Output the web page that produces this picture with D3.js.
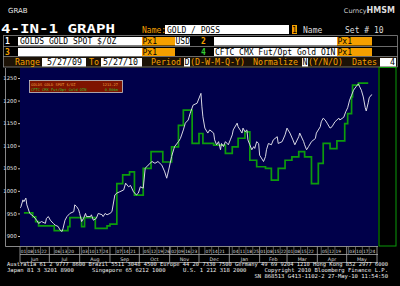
<!DOCTYPE html>
<html>
<head>
<meta charset="utf-8">
<script src="https://cdn.jsdelivr.net/npm/d3@7"></script>
<style>
  body { margin: 0; background: #000; }
  svg { display: block; }
</style>
</head>
<body>
<div id="chart"></div>
<script>
// gold spot
const goldDates = [
  '2009-05-29','2009-06-02','2009-06-04','2009-06-05','2009-06-07','2009-06-08','2009-06-11','2009-06-15','2009-06-18','2009-06-20',
  '2009-06-23','2009-06-27','2009-06-28','2009-06-30','2009-07-02','2009-07-05','2009-07-07','2009-07-10','2009-07-12','2009-07-14',
  '2009-07-15','2009-07-17','2009-07-19','2009-07-22','2009-07-26','2009-07-27','2009-07-29','2009-07-31','2009-08-01','2009-08-03',
  '2009-08-05','2009-08-07','2009-08-08','2009-08-12','2009-08-13','2009-08-15','2009-08-18','2009-08-20','2009-08-24','2009-08-25',
  '2009-08-27','2009-08-29','2009-09-01','2009-09-03','2009-09-06','2009-09-08','2009-09-11','2009-09-15','2009-09-17','2009-09-20',
  '2009-09-22','2009-09-25','2009-09-28','2009-09-30','2009-10-02','2009-10-05','2009-10-07','2009-10-10','2009-10-14','2009-10-17',
  '2009-10-20','2009-10-24','2009-10-27','2009-10-29','2009-10-31','2009-11-03','2009-11-06','2009-11-10','2009-11-12','2009-11-15',
  '2009-11-17','2009-11-20','2009-11-22','2009-11-25','2009-11-29','2009-12-03','2009-12-04','2009-12-05','2009-12-07','2009-12-10',
  '2009-12-12','2009-12-16','2009-12-17','2009-12-19','2009-12-21','2009-12-23','2009-12-24','2009-12-26','2009-12-28','2009-12-31',
  '2010-01-02','2010-01-04','2010-01-05','2010-01-09','2010-01-10','2010-01-12','2010-01-14','2010-01-15','2010-01-17','2010-01-19',
  '2010-01-20','2010-01-22','2010-01-24','2010-01-26','2010-01-27','2010-01-29','2010-01-31','2010-02-01','2010-02-05','2010-02-07',
  '2010-02-08','2010-02-10','2010-02-13','2010-02-15','2010-02-19','2010-02-20','2010-02-24','2010-02-27','2010-03-01','2010-03-02',
  '2010-03-04','2010-03-07','2010-03-09','2010-03-13','2010-03-14','2010-03-18','2010-03-19','2010-03-21','2010-03-23','2010-03-26',
  '2010-03-30','2010-03-31','2010-04-04','2010-04-05','2010-04-07','2010-04-09','2010-04-11','2010-04-14','2010-04-16','2010-04-19',
  '2010-04-23','2010-04-24','2010-04-28','2010-04-30','2010-05-02','2010-05-04','2010-05-06','2010-05-08','2010-05-11','2010-05-13',
  '2010-05-14','2010-05-16','2010-05-18','2010-05-20','2010-05-21','2010-05-23','2010-05-24','2010-05-26','2010-05-27'
];
const goldPx = [
  954, 965, 980, 976, 984, 969, 950, 943, 935, 928,
  932, 928, 939, 943, 935, 928, 924, 921, 913, 910,
  917, 935, 943, 950, 954, 969, 965, 958, 950, 932,
  939, 950, 943, 943, 947, 935, 939, 950, 947, 943,
  950, 947, 950, 954, 991, 995, 998, 1002, 1017, 1009,
  1012, 998, 991, 995, 1009, 1006, 1050, 1057, 1065, 1061,
  1065, 1057, 1042, 1028, 1046, 1076, 1098, 1109, 1116, 1135,
  1150, 1157, 1172, 1190, 1194, 1216, 1186, 1164, 1139, 1128,
  1135, 1128, 1113, 1102, 1109, 1091, 1105, 1098, 1109, 1102,
  1113, 1124, 1135, 1150, 1142, 1135, 1128, 1139, 1131, 1135,
  1113, 1102, 1091, 1098, 1094, 1109, 1105, 1079, 1065, 1076,
  1091, 1105, 1102, 1113, 1120, 1105, 1109, 1124, 1139, 1135,
  1128, 1113, 1102, 1120, 1128, 1109, 1102, 1091, 1098, 1109,
  1116, 1128, 1142, 1153, 1161, 1157, 1150, 1139, 1142, 1153,
  1161, 1157, 1163, 1175, 1184, 1201, 1212, 1223, 1232, 1237,
  1232, 1223, 1208, 1184, 1177, 1195, 1206, 1212, 1213
];

// CFTC open interest (millions), step line
const oiDates = [
  '2009-06-05','2009-06-14','2009-06-17','2009-06-20','2009-07-06','2009-07-20','2009-07-22','2009-08-03','2009-08-06','2009-08-17',
  '2009-08-29','2009-09-01','2009-09-08','2009-09-14','2009-09-21','2009-09-26','2009-10-05','2009-10-13','2009-10-25','2009-11-03',
  '2009-11-10','2009-11-15','2009-11-24','2009-12-01','2009-12-05','2009-12-16','2009-12-28','2010-01-04','2010-01-10','2010-01-17',
  '2010-01-22','2010-01-29','2010-02-07','2010-02-13','2010-02-20','2010-02-27','2010-03-06','2010-03-13','2010-03-19','2010-03-26',
  '2010-04-02','2010-04-07','2010-04-14','2010-04-21','2010-04-29','2010-05-02','2010-05-06','2010-05-07','2010-05-13','2010-05-23'
];
const oiVal = [
  0.535, 0.526, 0.515, 0.505, 0.494, 0.503, 0.524, 0.503, 0.524, 0.499,
  0.505, 0.509, 0.603, 0.623, 0.630, 0.576, 0.638, 0.677, 0.653, 0.688,
  0.738, 0.773, 0.696, 0.719, 0.696, 0.692, 0.673, 0.688, 0.708, 0.723,
  0.657, 0.642, 0.638, 0.611, 0.638, 0.657, 0.665, 0.677, 0.665, 0.603,
  0.650, 0.696, 0.684, 0.702, 0.742, 0.765, 0.804, 0.831, 0.836, 0.836
];

const priceTicks = [900, 950, 1000, 1050, 1100, 1150, 1200, 1250];
const oiTicks = [0.5, 0.55, 0.6, 0.65, 0.7, 0.75, 0.8, 0.85];
const monthNames = ['Jun','Jul','Aug','Sep','Oct','Nov','Dec','Jan','Feb','Mar','Apr','May'];
const legendNames = ['GOLDS  GOLD SPOT $/OZ', 'CFTC CMX Fut/Opt Gold OIN'];
const legendLast = ['1213.27', '0.806m'];

const ORANGE = '#f5a000';
const MONO = '"DejaVu Sans Mono", monospace';
const SANS = '"DejaVu Sans", sans-serif';

const parse = d3.timeParse('%Y-%m-%d');
const gold = goldDates.map((d, i) => ({ date: parse(d), v: goldPx[i] }));
const oi = oiDates.map((d, i) => ({ date: parse(d), v: oiVal[i] }));

const svg = d3.select('#chart').append('svg')
  .attr('width', 400)
  .attr('height', 286);

svg.append('rect').attr('width', 400).attr('height', 286).attr('fill', '#000');

// ---- header ----
svg.append('text').attr('x', 8).attr('y', 12.5)
  .attr('fill', '#e8e8e8').style('font', `7px ${SANS}`).text('GRAB');

const brand = svg.append('text').attr('x', 395).attr('y', 12.5)
  .attr('text-anchor', 'end').attr('fill', '#ccc');
brand.append('tspan').style('font', `6.5px ${SANS}`).text('Curncy');
brand.append('tspan').style('font', `bold 8px ${SANS}`).attr('fill', '#ddd').text('HMSM');

svg.append('text').attr('x', 1).attr('y', 33)
  .attr('fill', '#fff')
  .attr('textLength', 114).attr('lengthAdjust', 'spacingAndGlyphs')
  .style('font', `bold 12px ${MONO}`).text('4-IN-1 GRAPH');

function label(x, y, txt, color, extra) {
  return svg.append('text').attr('x', x).attr('y', y)
    .attr('fill', color).style('font', extra || `8px ${MONO}`).text(txt);
}
function box(x, y, w, h, color) {
  return svg.append('rect').attr('x', x).attr('y', y).attr('width', w).attr('height', h).attr('fill', color);
}

label(142, 32.5, 'Name:', ORANGE);
box(165, 25, 124, 9, '#fff');
label(167, 32.5, 'GOLD / POSS', '#000');
box(292, 25, 5, 9, ORANGE);
label(292, 32.5, '1', '#000');
label(303, 32.5, 'Name', '#ddd');
label(345, 32.5, 'Set # 10', '#ddd');

// input rows
svg.append('rect').attr('x', 4).attr('y', 57).attr('width', 393).attr('height', 10).attr('fill', '#1c1206');
[35.5, 46.5, 56.5, 67].forEach(y => {
  svg.append('line').attr('x1', 3).attr('x2', 397.5).attr('y1', y).attr('y2', y)
    .attr('stroke', '#888').attr('stroke-width', 0.8);
});
[3.5, 397.5].forEach(x => {
  svg.append('line').attr('x1', x).attr('x2', x).attr('y1', 35.5).attr('y2', 67)
    .attr('stroke', '#888').attr('stroke-width', 0.8);
});

label(5, 44, '1', '#fff', `bold 8px ${MONO}`);
box(18, 37, 124, 8.5, '#fff');
label(20, 44, 'GOLDS  GOLD SPOT $/OZ', '#000');
box(142, 37, 33, 8.5, ORANGE);
label(142.5, 44, 'Px1', '#000');
box(175, 37, 15, 8.5, '#fff');
label(175.5, 44, 'USD', '#000');
label(201, 44, '2', ORANGE, `bold 8px ${MONO}`);
box(214, 37, 123, 8.5, '#fff');
box(337, 37, 35, 8.5, ORANGE);
label(337.5, 44, 'Px1', '#000');

label(5, 55, '3', ORANGE, `bold 8px ${MONO}`);
box(18, 48, 124, 8, '#fff');
box(142, 48, 33, 8, ORANGE);
label(142.5, 55, 'Px1', '#000');
label(201, 55, '4', '#33cc33', `bold 8px ${MONO}`);
box(214, 48, 123, 8, '#fff');
label(215, 55, 'CFTC CMX Fut/Opt Gold OIN', '#000');
box(337, 48, 35, 8, ORANGE);
label(337.5, 55, 'Px1', '#000');

label(15, 65, 'Range', ORANGE, `8.3px ${MONO}`);
box(42, 58, 44, 8.5, '#fff');
label(47, 65, '5/27/09', '#000', `8.3px ${MONO}`);
label(89, 65, 'To', ORANGE, `8.3px ${MONO}`);
box(101, 58, 41, 8.5, '#fff');
label(103, 65, '5/27/10', '#000', `8.3px ${MONO}`);
label(151, 65, 'Period', ORANGE, `8.3px ${MONO}`);
box(184, 58, 6, 8.5, '#fff');
label(184.5, 65, 'D', '#000', `8.3px ${MONO}`);
label(190, 65, '(D-W-M-Q-Y)', ORANGE, `8.3px ${MONO}`);
label(253, 65, 'Normalize', ORANGE, `8.3px ${MONO}`);
box(302, 58, 6, 8.5, '#fff');
label(302.5, 65, 'N', '#000', `8.3px ${MONO}`);
label(308, 65, '(Y/N/O)', ORANGE, `8.3px ${MONO}`);
label(352, 65, 'Dates', ORANGE, `8.3px ${MONO}`);
box(380, 58, 16, 8.5, '#fff');
label(390, 65, '4', '#000', `8.3px ${MONO}`);

// ---- chart ----
const PL = 20, PR = 378, PT = 68, PB = 246;
svg.append('rect').attr('x', PL).attr('y', PT).attr('width', PR - PL).attr('height', PB - PT)
  .attr('fill', '#00004a');

const x = d3.scaleTime()
  .domain([new Date(2009, 5, 1), new Date(2010, 5, 1)])
  .range([20, 377]);
const yL = d3.scaleLinear().domain([900, 1250]).range([236, 78]);
const yR = d3.scaleLinear().domain([0.5, 0.85]).range([228, 77]);

svg.append('clipPath').attr('id', 'plotclip')
  .append('rect').attr('x', PL).attr('y', PT).attr('width', PR - PL).attr('height', PB - PT);
svg.append('clipPath').attr('id', 'rclip')
  .append('rect').attr('x', 379).attr('y', PT).attr('width', 17).attr('height', PB - PT);

// left axis
const gL = svg.append('g').attr('transform', `translate(${PL},0)`)
  .call(d3.axisLeft(yL).tickValues(priceTicks).tickSize(2).tickPadding(1.2)
    .tickFormat(d3.format('d')));
gL.select('.domain').remove();
gL.selectAll('line').attr('stroke', '#bbb');
gL.selectAll('text').attr('fill', '#e0e0e0').style('font', `5.3px ${SANS}`);
svg.append('path').attr('d', `M5.5,${PT}V${PB}.5H${PL}`)
  .attr('fill', 'none').attr('stroke', '#aaa').attr('stroke-width', 0.8);

// right axis
svg.append('rect').attr('x', 379).attr('y', PT - 0.5).attr('width', 17).attr('height', PB - PT + 0.5)
  .attr('fill', 'none').attr('stroke', '#0a9a0a').attr('stroke-width', 1);
const gR = svg.append('g').attr('transform', 'translate(379,0)')
  .attr('clip-path', 'url(#rclip)')
  .call(d3.axisRight(yR).tickValues(oiTicks).tickSize(2).tickPadding(0.6)
    .tickFormat(d => d3.format('~g')(d) + 'm'));
gR.select('.domain').remove();
gR.selectAll('line').attr('stroke', '#1fb01f');
gR.selectAll('text').attr('fill', '#22b822').style('font', `5.1px ${SANS}`);

// series
const lines = svg.append('g').attr('clip-path', 'url(#plotclip)');
lines.append('path')
  .datum(oi)
  .attr('fill', 'none')
  .attr('stroke', '#0c9c0c')
  .attr('stroke-width', 1.7)
  .attr('d', d3.line().curve(d3.curveStepAfter).x(d => x(d.date)).y(d => yR(d.v)));
lines.append('path')
  .datum(gold)
  .attr('fill', 'none')
  .attr('stroke', '#d8d8e4')
  .attr('stroke-width', 1)
  .attr('d', d3.line().x(d => x(d.date)).y(d => yL(d.v)));

// legend box
svg.append('rect').attr('x', 29.5).attr('y', 80.5).attr('width', 93).attr('height', 12)
  .attr('fill', '#7e1400').attr('stroke', '#c8c8c8').attr('stroke-width', 0.8);
const legColors = ['#f0a040', '#30c030'];
legendNames.forEach((n, i) => {
  label(31, 85.8 + i * 5, n, legColors[i], `3.7px ${MONO}`);
  label(118, 85.8 + i * 5, legendLast[i], legColors[i], `3.7px ${MONO}`).attr('text-anchor', 'end');
});

// x axis
const axisG = svg.append('g');
[246.5, 254.5, 262.5].forEach(y => {
  axisG.append('line').attr('x1', PL).attr('x2', PR).attr('y1', y).attr('y2', y)
    .attr('stroke', '#aaa').attr('stroke-width', 0.8);
});
const end = x.domain()[1];
const monthStarts = d3.timeMonth.range(x.domain()[0], end);
[...monthStarts, end].forEach(m => {
  const xx = Math.min(x(m), PR);
  axisG.append('line').attr('x1', xx).attr('x2', xx).attr('y1', 246.5).attr('y2', 262.5)
    .attr('stroke', '#aaa').attr('stroke-width', 0.8);
});
monthStarts.forEach((m, i) => {
  const next = d3.timeMonth.offset(m, 1);
  axisG.append('text')
    .attr('x', (x(m) + Math.min(x(next), PR)) / 2).attr('y', 260.6)
    .attr('text-anchor', 'middle').attr('fill', '#ddd')
    .style('font', `4.8px ${SANS}`).text(monthNames[i]);
});
const fmtDay = d3.timeFormat('%d');
d3.timeMonday.range(x.domain()[0], end).forEach(mon => {
  const next = d3.timeMonth.ceil(d3.timeDay.offset(mon, 1));
  if (d3.timeDay.offset(mon, 5) >= next) return;
  if (d3.timeDay.count(d3.timeMonth.floor(mon), mon) > 0) {
    axisG.append('line').attr('x1', x(mon)).attr('x2', x(mon)).attr('y1', 247).attr('y2', 254)
      .attr('stroke', '#999').attr('stroke-width', 0.6);
  }
  axisG.append('text')
    .attr('x', x(d3.timeHour.offset(mon, 84))).attr('y', 252.7)
    .attr('text-anchor', 'middle').attr('fill', '#ddd')
    .style('font', `4.4px ${SANS}`).text(fmtDay(mon));
});

// footer
const FOOT = `5.55px ${MONO}`;
label(7, 266, 'Australia 61 2 9777 8600 Brazil 5511 3048 4500 Europe 44 20 7330 7500 Germany 49 69 9204 1210 Hong Kong 852 2977 6000', '#eee', FOOT)
  .attr('textLength', 381).attr('lengthAdjust', 'spacingAndGlyphs');
label(7, 272, 'Japan 81 3 3201 8900', '#eee', FOOT);
label(92, 272, 'Singapore 65 6212 1000', '#eee', FOOT);
label(183, 272, 'U.S. 1 212 318 2000', '#eee', FOOT);
label(388, 272, 'Copyright 2010 Bloomberg Finance L.P.', '#eee', FOOT).attr('text-anchor', 'end');
label(388, 278, 'SN 868513 G413-1102-2 27-May-10 11:54:50', '#eee', FOOT).attr('text-anchor', 'end');
</script>
</body>
</html>
